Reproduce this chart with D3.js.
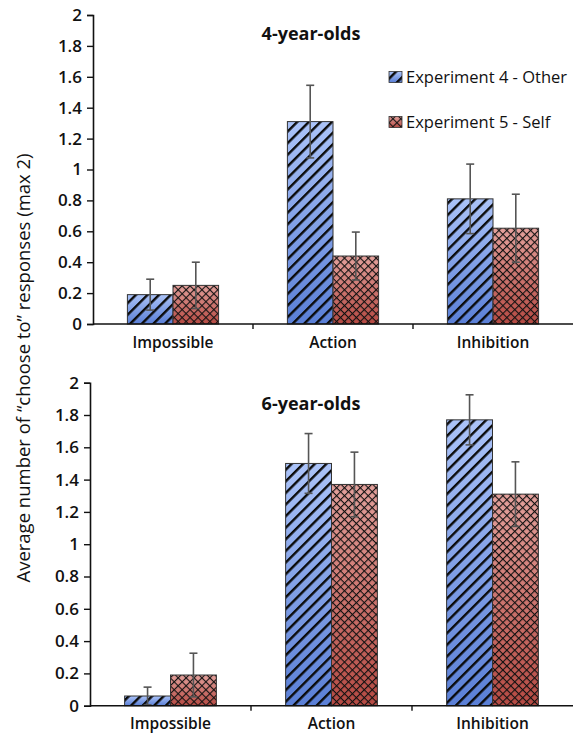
<!DOCTYPE html>
<html>
<head>
<meta charset="utf-8">
<script src="https://cdn.jsdelivr.net/npm/d3@7"></script>
<style>
  body { margin: 0; background: #fff; }
  svg { display: block; }
  text { font-family: "Open Sans", sans-serif; fill: #111; }
</style>
</head>
<body>
<svg id="chart"></svg>
<script>
const width = 576;
const height = 735;

// data
const categories = ["Impossible", "Action", "Inhibition"];
const seriesNames = ["Experiment 4 - Other", "Experiment 5 - Self"];
const yTicks = [0, 0.2, 0.4, 0.6, 0.8, 1, 1.2, 1.4, 1.6, 1.8, 2];

const other4 = [0.19, 1.31, 0.81];
const other4Err = [0.10, 0.235, 0.225];
const self4 = [0.25, 0.44, 0.62];
const self4Err = [0.15, 0.155, 0.22];

const other6 = [0.06, 1.50, 1.77];
const other6Err = [0.055, 0.185, 0.155];
const self6 = [0.19, 1.37, 1.31];
const self6Err = [0.135, 0.2, 0.2];

const svg = d3.select("#chart").attr("width", width).attr("height", height);
const defs = svg.append("defs");

// gradients
function addGradient(id, top, bottom) {
  const g = defs.append("linearGradient").attr("id", id)
    .attr("x1", 0).attr("y1", 0).attr("x2", 0).attr("y2", 1);
  g.append("stop").attr("offset", "0%").attr("stop-color", top);
  g.append("stop").attr("offset", "100%").attr("stop-color", bottom);
}
addGradient("gradBlue", "#abc3f8", "#5a7fd6");
addGradient("gradRed", "#e4a19c", "#b64a43");

// hatch patterns
const diag = defs.append("pattern").attr("id", "hatchDiag")
  .attr("patternUnits", "userSpaceOnUse")
  .attr("width", 8.2).attr("height", 8.2)
  .attr("patternTransform", "rotate(45)");
diag.append("rect").attr("x", 0).attr("y", 0).attr("width", 2.4).attr("height", 8.2)
  .attr("fill", "#0a0a0a");

const cross = defs.append("pattern").attr("id", "hatchCross")
  .attr("patternUnits", "userSpaceOnUse")
  .attr("width", 5.6).attr("height", 5.6)
  .attr("patternTransform", "rotate(45)");
cross.append("rect").attr("x", 0).attr("y", 0).attr("width", 1.1).attr("height", 5.6)
  .attr("fill", "#111");
cross.append("rect").attr("x", 0).attr("y", 0).attr("width", 5.6).attr("height", 1.1)
  .attr("fill", "#111");

const seriesStyle = [
  { grad: "url(#gradBlue)", hatch: "url(#hatchDiag)" },
  { grad: "url(#gradRed)", hatch: "url(#hatchCross)" },
];

function drawPanel(cfg) {
  const { left, right, top, bottom, title, titleY, labelY, values, errors } = cfg;

  const x = d3.scaleBand().domain(categories).range([left, right]).padding(0);
  const inner = d3.scaleBand().domain(seriesNames)
    .range([x.bandwidth() * 0.215, x.bandwidth() * 0.785]).padding(0);
  const y = d3.scaleLinear().domain([0, 2]).range([bottom, top]);

  const g = svg.append("g");

  const rows = [];
  categories.forEach((c, i) => {
    seriesNames.forEach((s, j) => {
      rows.push({ cat: c, ser: s, j, v: values[j][i], e: errors[j][i] });
    });
  });

  const bars = g.selectAll("g.bar").data(rows).enter().append("g").attr("class", "bar");
  bars.append("rect")
    .attr("x", d => x(d.cat) + inner(d.ser))
    .attr("y", d => y(d.v))
    .attr("width", inner.bandwidth())
    .attr("height", d => y(0) - y(d.v))
    .attr("fill", d => seriesStyle[d.j].grad);
  bars.append("rect")
    .attr("x", d => x(d.cat) + inner(d.ser))
    .attr("y", d => y(d.v))
    .attr("width", inner.bandwidth())
    .attr("height", d => y(0) - y(d.v))
    .attr("fill", d => seriesStyle[d.j].hatch)
    .attr("stroke", "#333")
    .attr("stroke-width", 1);

  // error bars
  const eb = g.selectAll("g.err").data(rows).enter().append("g").attr("class", "err")
    .attr("stroke", "#555").attr("stroke-width", 1.6);
  const cx = d => x(d.cat) + inner(d.ser) + inner.bandwidth() / 2;
  eb.append("line")
    .attr("x1", cx).attr("x2", cx)
    .attr("y1", d => y(d.v + d.e)).attr("y2", d => y(Math.max(0, d.v - d.e)));
  eb.append("line")
    .attr("x1", d => cx(d) - 4).attr("x2", d => cx(d) + 4)
    .attr("y1", d => y(d.v + d.e)).attr("y2", d => y(d.v + d.e));
  eb.append("line")
    .attr("x1", d => cx(d) - 4).attr("x2", d => cx(d) + 4)
    .attr("y1", d => y(Math.max(0, d.v - d.e))).attr("y2", d => y(Math.max(0, d.v - d.e)));

  // y axis
  const yAxis = g.append("g").attr("transform", `translate(${left},0)`)
    .call(d3.axisLeft(y).tickValues(yTicks).tickSize(6).tickPadding(5)
      .tickFormat(d => String(+d.toFixed(1))));
  yAxis.select(".domain").attr("stroke", "#111").attr("stroke-width", 1.6);
  yAxis.selectAll(".tick line").attr("stroke", "#111").attr("stroke-width", 1.4);
  yAxis.selectAll(".tick text")
    .attr("font-size", 17).attr("font-weight", 600)
    .attr("font-family", "'Open Sans', sans-serif").attr("fill", "#111");

  // x axis line and boundary ticks
  g.append("line").attr("x1", left).attr("x2", right)
    .attr("y1", bottom).attr("y2", bottom)
    .attr("stroke", "#111").attr("stroke-width", 1.6);
  g.selectAll("line.xtick").data(categories.slice(1)).enter().append("line")
    .attr("class", "xtick")
    .attr("x1", d => x(d)).attr("x2", d => x(d))
    .attr("y1", bottom).attr("y2", bottom + 5)
    .attr("stroke", "#111").attr("stroke-width", 1.4);

  g.selectAll("text.cat").data(categories).enter().append("text")
    .attr("class", "cat")
    .attr("x", d => x(d) + x.bandwidth() / 2)
    .attr("y", labelY)
    .attr("text-anchor", "middle")
    .attr("font-size", 15.5).attr("font-weight", 600)
    .text(d => d);

  g.append("text")
    .attr("x", 311).attr("y", titleY)
    .attr("text-anchor", "middle")
    .attr("font-size", 18).attr("font-weight", 700)
    .text(title);
}

drawPanel({
  left: 93, right: 573, top: 15, bottom: 324,
  title: "4-year-olds", titleY: 40, labelY: 348,
  values: [other4, self4], errors: [other4Err, self4Err],
});

drawPanel({
  left: 90, right: 573, top: 382.7, bottom: 705.7,
  title: "6-year-olds", titleY: 410, labelY: 729,
  values: [other6, self6], errors: [other6Err, self6Err],
});

// legend
const legend = svg.append("g").attr("transform", "translate(389,0)");
const legendY = [77, 122];
seriesNames.forEach((s, j) => {
  const row = legend.append("g").attr("transform", `translate(0,${legendY[j]})`);
  row.append("rect").attr("x", 0).attr("y", -5.5).attr("width", 13).attr("height", 11)
    .attr("fill", seriesStyle[j].grad);
  row.append("rect").attr("x", 0).attr("y", -5.5).attr("width", 13).attr("height", 11)
    .attr("fill", seriesStyle[j].hatch).attr("stroke", "#333").attr("stroke-width", 0.8);
  row.append("text").attr("x", 17).attr("y", 6)
    .attr("font-size", 16.5).attr("font-weight", 500)
    .text(s);
});

// shared y label
svg.append("text")
  .attr("transform", "translate(30,368) rotate(-90)")
  .attr("text-anchor", "middle")
  .attr("font-size", 18.5)
  .text("Average number of \u201cchoose to\u201d responses (max 2)");
</script>
</body>
</html>
